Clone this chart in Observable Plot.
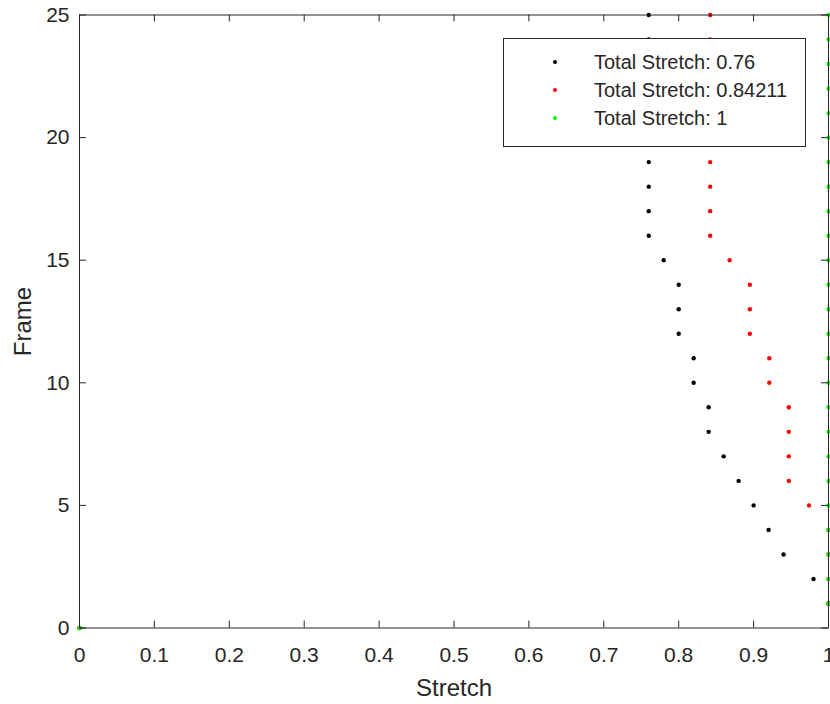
<!DOCTYPE html>
<html>
<head>
<meta charset="utf-8">
<script src="https://cdn.jsdelivr.net/npm/d3@7"></script>
<script src="https://cdn.jsdelivr.net/npm/@observablehq/plot@0.6"></script>
<style>
  html, body { margin: 0; padding: 0; background: #fff; }
  #wrap { position: relative; width: 830px; height: 704px; font-family: "Liberation Sans", Arial, sans-serif; }
  #legend { position: absolute; left: 503px; top: 38px; width: 301px; height: 107px; background: #fff; border: 1px solid #262626; }
  .row { position: absolute; left: 0; height: 28px; line-height: 28px; font-size: 20px; color: #262626; white-space: nowrap; }
  .row .dot { position: absolute; left: 49px; top: 12px; width: 4px; height: 4px; border-radius: 50%; }
  .row .lab { position: absolute; left: 90px; top: 0; }
</style>
</head>
<body>
<div id="wrap"></div>
<script>
const frames = [0,1,2,3,4,5,6,7,8,9,10,11,12,13,14,15,16,17,18,19,20,21,22,23,24,25];
const stretch076 = [0,1,0.98,0.94,0.92,0.90,0.88,0.86,0.84,0.84,0.82,0.82,0.80,0.80,0.80,0.78,0.76,0.76,0.76,0.76,0.76,0.76,0.76,0.76,0.76,0.76];
const stretch084 = [0,1,1,1,1,0.974,0.947,0.947,0.947,0.947,0.921,0.921,0.895,0.895,0.895,0.868,0.842,0.842,0.842,0.842,0.842,0.842,0.842,0.842,0.842,0.842];
const stretch100 = [0,1,1,1,1,1,1,1,1,1,1,1,1,1,1,1,1,1,1,1,1,1,1,1,1,1];
const seriesNames = ["Total Stretch: 0.76", "Total Stretch: 0.84211", "Total Stretch: 1"];
const seriesColors = ["#000000", "#ff0000", "#00ff00"];
const xTicks = [0,0.1,0.2,0.3,0.4,0.5,0.6,0.7,0.8,0.9,1];
const yTicks = [0,5,10,15,20,25];
const xLabel = "Stretch";
const yLabel = "Frame";

const seriesValues = [stretch076, stretch084, stretch100];
const rows = [];
seriesValues.forEach((vals, s) => vals.forEach((v, i) => rows.push({s, x: v, y: frames[i]})));

const axisColor = "#262626";
const font = "Liberation Sans, Arial, sans-serif";

const plot = Plot.plot({
  width: 830,
  height: 704,
  marginLeft: 79,
  marginRight: 2,
  marginTop: 14.5,
  marginBottom: 76.5,
  style: {fontFamily: font, fontSize: "21px", color: axisColor, background: "#fff"},
  x: {domain: [0, 1], label: null},
  y: {domain: [0, 25], label: null},
  marks: [
    Plot.dot(rows, {x: "x", y: "y", r: 2.2, fill: d => seriesColors[d.s], stroke: null}),
    Plot.ruleX(xTicks, {x: d => d, y1: () => 0, y2: () => 0, insetBottom: 7, stroke: axisColor}),
    Plot.ruleX(xTicks, {x: d => d, y1: () => 25, y2: () => 25, insetBottom: -7, stroke: axisColor}),
    Plot.ruleY(yTicks, {y: d => d, x1: () => 0, x2: () => 0, insetRight: -7, stroke: axisColor}),
    Plot.ruleY(yTicks, {y: d => d, x1: () => 1, x2: () => 1, insetLeft: -7, stroke: axisColor}),
    Plot.frame({stroke: axisColor, strokeWidth: 1}),
    Plot.axisX({ticks: xTicks, tickSize: 0, tickPadding: 19, tickFormat: d => String(d), fontSize: 21, fill: axisColor, label: null}),
    Plot.axisY({ticks: yTicks, tickSize: 0, tickPadding: 10, tickFormat: d => String(d), fontSize: 21, fill: axisColor, label: null}),
    Plot.text([xLabel], {frameAnchor: "bottom", text: d => d, dy: 60, textAnchor: "middle", lineAnchor: "middle", fontSize: 24, fill: axisColor}),
    Plot.text([yLabel], {frameAnchor: "left", text: d => d, rotate: -90, dx: -56, textAnchor: "middle", lineAnchor: "middle", fontSize: 24, fill: axisColor})
  ]
});

const wrap = document.getElementById("wrap");
wrap.appendChild(plot);

const legend = document.createElement("div");
legend.id = "legend";
seriesNames.forEach((name, i) => {
  const row = document.createElement("div");
  row.className = "row";
  row.style.top = (9 + i * 28) + "px";
  row.style.width = "100%";
  const dot = document.createElement("span");
  dot.className = "dot";
  dot.style.background = seriesColors[i];
  const lab = document.createElement("span");
  lab.className = "lab";
  lab.textContent = name;
  row.appendChild(dot);
  row.appendChild(lab);
  legend.appendChild(row);
});
wrap.appendChild(legend);
</script>
</body>
</html>
